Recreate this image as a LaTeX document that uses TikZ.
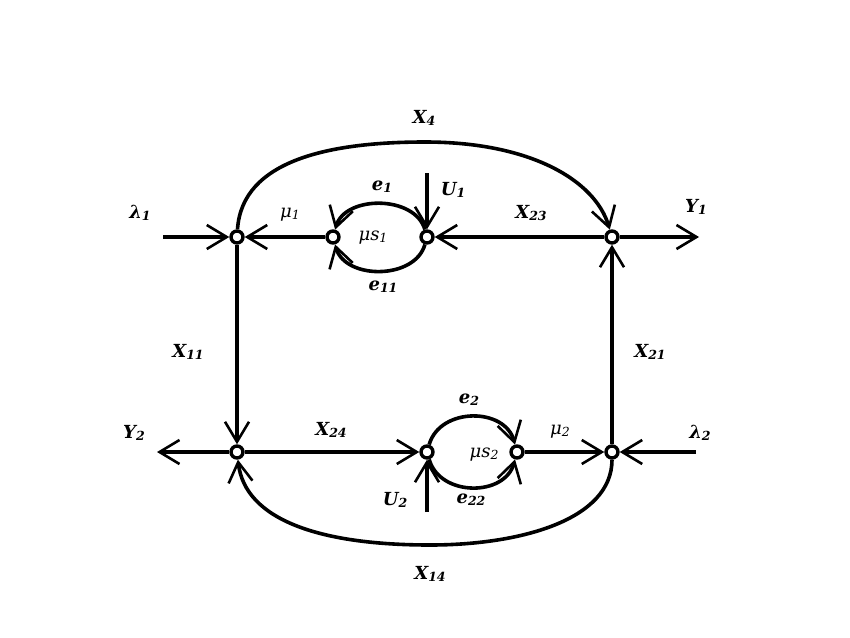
\documentclass[tikz,border=0pt]{standalone}
\usepackage{fontspec}
\setmainfont{DejaVu Serif}
\usetikzlibrary{arrows.meta}
\newcommand{\sbs}[1]{\raisebox{-2pt}{\fontsize{12.5}{12.5}\selectfont #1}}
\begin{document}
\begin{tikzpicture}[x=1pt,y=-1pt,
  vtx/.style={circle,draw,fill=white,line width=3.4pt,inner sep=0pt,minimum size=12pt},
  arr/.style={line width=3.6pt,-{Straight Barb[length=20pt,width=24pt,line width=2.6pt]}},
  lbl/.style={font=\fontsize{18}{18}\selectfont\bfseries\itshape,inner sep=0pt},
  glbl/.style={font=\fontsize{18}{18}\selectfont\itshape,inner sep=0pt}]
\useasboundingbox[fill=white] (0,0) rectangle (850,637);
% vertices
\node[vtx] (A) at (237,237) {};
\node[vtx] (B) at (333,237) {};
\node[vtx] (C) at (427,237) {};
\node[vtx] (D) at (612,237) {};
\node[vtx] (E) at (237,452) {};
\node[vtx] (F) at (427,452) {};
\node[vtx] (G) at (517,452) {};
\node[vtx] (H) at (612,452) {};
% free ends
\coordinate (l1) at (163,237);
\coordinate (y1) at (699,237);
\coordinate (u1) at (427,173);
\coordinate (y2) at (157,452);
\coordinate (u2) at (427,512);
\coordinate (l2) at (696,452);
% connectors
\draw[arr] (l1) -- (A);
\draw[arr] (B) -- (A);
\draw[arr] (D) -- (C);
\draw[arr] (D) -- (y1);
\draw[arr] (u1) -- (C);
\draw[arr] (C) .. controls (415,195) and (345,195) .. (B);
\draw[arr] (C) .. controls (415,280) and (345,280) .. (B);
\draw[arr] (A) .. controls (242,160) and (330,142) .. (425,142) .. controls (530,142) and (595,180) .. (D);
\draw[arr] (A) -- (E);
\draw[arr] (H) -- (D);
\draw[arr] (E) -- (y2);
\draw[arr] (E) -- (F);
\draw[arr] (u2) -- (F);
\draw[arr] (F) .. controls (440,407) and (505,407) .. (G);
\draw[arr] (F) .. controls (440,497) and (505,497) .. (G);
\draw[arr] (G) -- (H);
\draw[arr] (l2) -- (H);
\draw[arr] (H) .. controls (612,520) and (520,545) .. (430,545) .. controls (320,545) and (245,520) .. (E);
% labels
\node[lbl] (tX4) at (424,118) {X\sbs{4}};
\node[lbl] (tl1) at (140,213) {λ\sbs{1}};
\node[glbl] (tm1) at (290,215) {μ\sbs{1}};
\node[lbl] (te1) at (382,187) {e\sbs{1}};
\node[glbl] (tms1) at (373,238) {μs\sbs{1}};
\node[lbl] (te11) at (383,287) {e\sbs{11}};
\node[lbl] (tU1) at (453,190) {U\sbs{1}};
\node[lbl] (tX23) at (531,213) {X\sbs{23}};
\node[lbl] (tY1) at (696,207) {Y\sbs{1}};
\node[lbl] (tX11) at (188,352) {X\sbs{11}};
\node[lbl] (tX21) at (650,352) {X\sbs{21}};
\node[lbl] (tY2) at (134,433) {Y\sbs{2}};
\node[lbl] (tX24) at (331,430) {X\sbs{24}};
\node[lbl] (te2) at (469,400) {e\sbs{2}};
\node[glbl] (tms2) at (484,455) {μs\sbs{2}};
\node[glbl] (tm2) at (560,432) {μ\sbs{2}};
\node[lbl] (tl2) at (700,433) {λ\sbs{2}};
\node[lbl] (tU2) at (395,500) {U\sbs{2}};
\node[lbl] (te22) at (471,500) {e\sbs{22}};
\node[lbl] (tX14) at (430,574) {X\sbs{14}};
\end{tikzpicture}
\end{document}
